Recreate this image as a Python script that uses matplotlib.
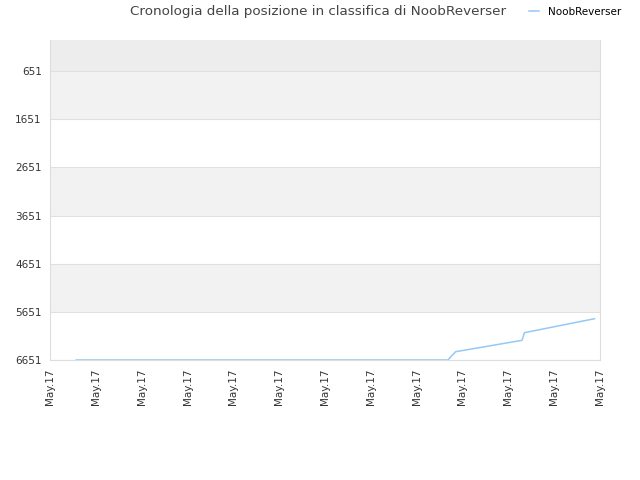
import matplotlib
matplotlib.use("Agg")
import matplotlib.pyplot as plt

# posizione in classifica (x in unità di tick)
pos_x = [0.57, 8.68, 8.85, 10.30, 10.35, 11.88]
pos_y = [6651, 6651, 6479, 6242, 6084, 5794]

yticks = [651, 1651, 2651, 3651, 4651, 5651, 6651]
xticks = list(range(13))
xlabels = ["May.17"] * 13

fig = plt.figure(figsize=(6.4, 4.8), dpi=100)
ax = fig.add_axes([50 / 640, 120 / 480, 550 / 640, 320 / 480])

ax.axhspan(7, 651, color="#ededed", lw=0, zorder=0)
for lo in (651, 2651, 4651):
    ax.axhspan(lo, lo + 1000, color="#f2f2f2", lw=0, zorder=0)
for t in yticks:
    ax.axhline(t, color="#e0e0e0", lw=0.8, zorder=1)

ax.plot(pos_x, pos_y, color="#95c8f5", lw=1.1, zorder=3, label="NoobReverser")

ax.set_xlim(0, 12)
ax.set_ylim(6651, 7)
ax.set_yticks(yticks)
ax.set_yticklabels([str(t) for t in yticks])
ax.set_xticks(xticks)
ax.set_xticklabels(xlabels, rotation=90)
ax.tick_params(length=0, labelsize=7.5, labelcolor="#333333", pad=6)

for s in ("left", "bottom", "right"):
    ax.spines[s].set_color("#dddddd")
ax.spines["top"].set_visible(False)

fig.text(0.497, 0.975, "Cronologia della posizione in classifica di NoobReverser",
         ha="center", va="center", fontsize=9.7, color="#444444")
fig.legend(loc="center", bbox_to_anchor=(0.8985, 0.975), frameon=False,
           fontsize=7.5, handlelength=1.0, handletextpad=0.9)

fig.savefig("out.png", dpi=100)
